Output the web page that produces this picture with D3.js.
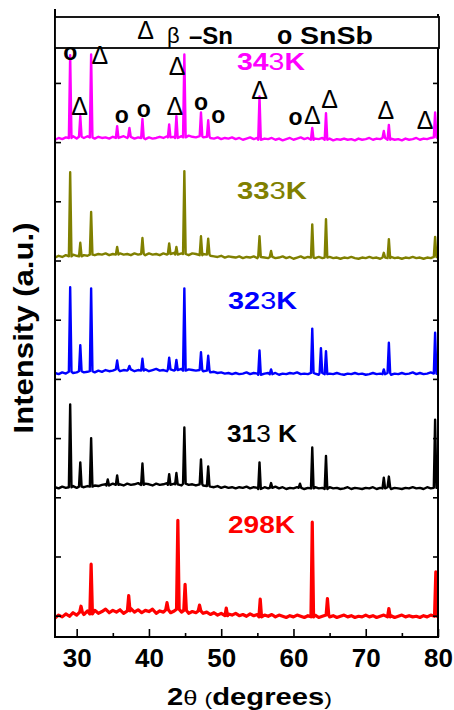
<!DOCTYPE html>
<html>
<head>
<meta charset="utf-8">
<script src="https://cdn.jsdelivr.net/npm/d3@7"></script>
<style>
  body { margin: 0; background: #fff; }
  svg { display: block; }
  text { font-family: "Liberation Sans", Arial, sans-serif; }
</style>
</head>
<body>
<div id="container"></div>
<script>
/**
 * CONSTANTS AND GLOBALS
 * */
const width = 454,
  height = 710,
  margin = { top: 48, bottom: 73, left: 55, right: 16 };

// 2theta sampling of the background, degrees
const twoTheta = [27,27.5,28,28.5,29,29.5,30,30.5,31,31.5,32,32.5,33,33.5,34,34.5,35,35.5,36,36.5,
  37,37.5,38,38.5,39,39.5,40,40.5,41,41.5,42,42.5,43,43.5,44,44.5,45,45.5,46,46.5,
  47,47.5,48,48.5,49,49.5,50,50.5,51,51.5,52,52.5,53,53.5,54,54.5,55,55.5,56,56.5,
  57,57.5,58,58.5,59,59.5,60,60.5,61,61.5,62,62.5,63,63.5,64,64.5,65,65.5,66,66.5,
  67,67.5,68,68.5,69,69.5,70,70.5,71,71.5,72,72.5,73,73.5,74,74.5,75,75.5,76,76.5,
  77,77.5,78,78.5,79,79.5,80];

// background level of each pattern (a.u., one tick = 1)
const base298 = [0.00,0.05,0.02,0.07,0.03,0.09,0.05,0.10,0.06,0.12,
  0.07,0.13,0.08,0.11,0.15,0.09,0.13,0.10,0.14,0.08,
  0.12,0.16,0.10,0.14,0.09,0.13,0.11,0.15,0.08,0.12,
  0.10,0.14,0.09,0.12,0.15,0.10,0.13,0.08,0.11,0.09,
  0.12,0.08,0.10,0.06,0.09,0.05,0.08,0.04,0.07,0.05,
  0.08,0.04,0.06,0.03,0.07,0.04,0.06,0.02,0.05,0.03,
  0.06,0.02,0.05,0.03,0.01,0.04,0.02,0.05,0.03,0.01,
  0.04,0.02,0.05,0.01,0.03,0.05,0.02,0.04,0.01,0.03,
  0.05,0.02,0.04,0.01,0.03,0.02,0.05,0.02,0.04,0.01,
  0.03,0.05,0.02,0.04,0.01,0.03,0.05,0.02,0.04,0.02,
  0.03,0.01,0.04,0.02,0.05,0.03,0.06];
const base313 = [0.05,0.03,0.06,0.04,0.05,0.07,0.04,0.06,0.05,0.07,
  0.06,0.08,0.07,0.09,0.10,0.08,0.11,0.09,0.10,0.08,
  0.11,0.09,0.10,0.12,0.09,0.11,0.10,0.08,0.11,0.09,
  0.10,0.12,0.09,0.11,0.10,0.08,0.11,0.09,0.10,0.08,
  0.10,0.08,0.07,0.06,0.05,0.07,0.04,0.06,0.04,0.05,
  0.03,0.05,0.04,0.06,0.03,0.05,0.04,0.02,0.05,0.03,
  0.04,0.06,0.03,0.05,0.02,0.04,0.03,0.05,0.04,0.02,
  0.04,0.03,0.05,0.03,0.04,0.02,0.05,0.03,0.04,0.02,
  0.03,0.05,0.02,0.04,0.03,0.02,0.04,0.03,0.05,0.02,
  0.04,0.03,0.05,0.02,0.04,0.03,0.02,0.04,0.03,0.05,
  0.03,0.04,0.02,0.05,0.03,0.04,0.05];
const base323 = [0.04,0.02,0.05,0.03,0.06,0.04,0.05,0.07,0.05,0.06,
  0.07,0.05,0.08,0.06,0.09,0.07,0.08,0.10,0.07,0.09,
  0.08,0.10,0.07,0.09,0.08,0.10,0.07,0.09,0.11,0.08,
  0.09,0.07,0.10,0.08,0.09,0.11,0.08,0.10,0.09,0.08,
  0.09,0.07,0.08,0.05,0.06,0.04,0.05,0.03,0.04,0.02,
  0.04,0.02,0.03,0.05,0.02,0.04,0.03,0.01,0.03,0.04,
  0.02,0.04,0.01,0.03,0.02,0.04,0.03,0.05,0.02,0.03,
  0.02,0.04,0.03,0.01,0.04,0.02,0.03,0.02,0.04,0.02,
  0.01,0.03,0.02,0.04,0.02,0.03,0.01,0.02,0.04,0.02,
  0.03,0.02,0.04,0.01,0.03,0.02,0.04,0.02,0.03,0.05,
  0.02,0.04,0.02,0.03,0.05,0.03,0.02];
const base333 = [0.03,0.06,0.04,0.07,0.05,0.08,0.06,0.05,0.07,0.06,
  0.08,0.07,0.09,0.08,0.10,0.07,0.09,0.08,0.10,0.08,
  0.09,0.07,0.10,0.08,0.09,0.07,0.10,0.08,0.09,0.07,
  0.10,0.08,0.09,0.11,0.08,0.10,0.09,0.07,0.10,0.09,
  0.07,0.09,0.08,0.06,0.05,0.04,0.06,0.03,0.05,0.04,
  0.03,0.05,0.02,0.04,0.03,0.05,0.02,0.04,0.03,0.02,
  0.04,0.02,0.03,0.05,0.02,0.04,0.01,0.03,0.05,0.02,
  0.04,0.03,0.02,0.04,0.02,0.03,0.04,0.02,0.03,0.01,
  0.03,0.02,0.04,0.02,0.01,0.03,0.02,0.04,0.02,0.03,
  0.01,0.03,0.02,0.04,0.02,0.03,0.01,0.03,0.02,0.04,
  0.02,0.03,0.01,0.03,0.02,0.04,0.03];
const base343 = [0.02,0.05,0.03,0.06,0.05,0.08,0.04,0.07,0.05,0.08,
  0.06,0.04,0.07,0.05,0.06,0.04,0.07,0.05,0.06,0.08,
  0.05,0.07,0.04,0.06,0.05,0.03,0.06,0.04,0.05,0.07,
  0.05,0.08,0.06,0.07,0.05,0.08,0.06,0.09,0.07,0.06,
  0.08,0.06,0.07,0.05,0.04,0.06,0.03,0.05,0.04,0.06,
  0.03,0.05,0.02,0.04,0.06,0.03,0.05,0.02,0.04,0.03,
  0.05,0.02,0.04,0.01,0.03,0.05,0.02,0.04,0.06,0.03,
  0.05,0.02,0.04,0.03,0.05,0.02,0.04,0.01,0.03,0.02,
  0.04,0.02,0.03,0.01,0.04,0.02,0.03,0.05,0.02,0.04,
  0.03,0.05,0.02,0.04,0.02,0.03,0.01,0.04,0.02,0.03,
  0.05,0.02,0.04,0.03,0.05,0.06,0.04];

// reflections: [2theta, height above background]
const peaks298 = [[30.6,0.10],[32.0,0.84],[37.2,0.26],[42.5,0.12],[44.0,1.50],[45.0,0.44],
  [47.0,0.10],[50.7,0.13],[55.4,0.30],[62.6,1.60],[64.7,0.28],[73.2,0.14],[79.7,0.75]];
const peaks313 = [[29.1,1.40],[30.5,0.41],[32.0,0.82],[34.3,0.10],[35.6,0.16],[39.1,0.36],
  [42.8,0.18],[43.8,0.19],[44.9,0.95],[47.2,0.42],[48.2,0.33],[55.3,0.45],[56.9,0.08],
  [60.9,0.07],[62.6,0.69],[64.5,0.56],[72.5,0.18],[73.2,0.18],[79.6,1.15]];
const peaks323 = [[29.1,1.43],[30.5,0.44],[32.0,1.40],[35.6,0.15],[37.3,0.06],[39.1,0.20],
  [42.8,0.20],[43.8,0.17],[44.9,1.39],[47.2,0.30],[48.2,0.25],[55.3,0.41],[56.9,0.08],
  [62.6,0.75],[63.8,0.42],[64.5,0.39],[72.5,0.08],[73.2,0.51],[79.6,0.69]];
const peaks333 = [[29.1,1.42],[30.5,0.23],[32.0,0.72],[35.6,0.13],[39.1,0.27],[42.8,0.18],
  [43.8,0.13],[44.9,1.40],[47.2,0.32],[48.2,0.27],[55.3,0.35],[56.9,0.10],[62.6,0.56],
  [64.5,0.65],[72.5,0.08],[73.2,0.32],[79.6,0.34]];
const peaks343 = [[29.1,1.40],[30.5,0.35],[32.0,1.40],[35.6,0.20],[37.3,0.15],[39.1,0.32],
  [42.8,0.22],[43.8,0.37],[44.9,1.40],[47.2,0.40],[48.2,0.28],[55.3,0.73],[62.6,0.20],
  [64.5,0.45],[72.5,0.12],[73.2,0.25],[79.6,0.42]];

const seriesNames = ["298K", "313 K", "323K", "333K", "343K"];
const seriesColors = ["#ff0000", "#000000", "#0000ff", "#808000", "#ff00ff"];
const offsets = [-0.04, 2.12, 4.06, 6.02, 8.02];
// label anchor [2theta, level] and width in px
const labelPos = [[55.58, 1.40], [55.65, 2.93], [55.72, 5.18], [57.03, 7.04], [56.89, 9.21]];
const labelWidth = [67, 70, 69, 70, 68];

// phase markers on the 343 K pattern: [2theta, level, phase]
const markers = [[29.1,9.49,"o"],[33.2,9.46,"d"],[30.4,8.59,"d"],[36.25,8.42,"o"],[39.3,8.52,"o"],
  [43.6,8.59,"d"],[43.9,9.27,"d"],[47.2,8.64,"o"],[49.6,8.42,"o"],[55.3,8.86,"d"],
  [60.3,8.39,"o"],[62.6,8.44,"d"],[65.0,8.71,"d"],[72.8,8.52,"d"],[78.2,8.35,"d"]];

const xTicks = [30, 40, 50, 60, 70, 80];
const xMinor = [35, 45, 55, 65, 75];
const yTicks = [0, 1, 2, 3, 4, 5, 6, 7, 8, 9];

/**
 * SCALES
 * */
const x = d3.scaleLinear().domain([27, 80]).range([margin.left, width - margin.right]);
const y = d3.scaleLinear().domain([-0.36, 9.59]).range([height - margin.bottom, margin.top]);

const svg = d3.select("#container")
  .append("svg")
  .attr("width", width)
  .attr("height", height);

// combine background + reflections into one trace
function buildTrace(base, peaks) {
  const pts = twoTheta
    .map((t, i) => [t, base[i]])
    .filter(([t]) => !peaks.some(([p]) => Math.abs(t - p) < 0.25));
  peaks.forEach(([p, h]) => {
    const b = base[d3.minIndex(twoTheta, t => Math.abs(t - p))];
    pts.push([p - 0.18, b], [p, b + h], [p + 0.18, b]);
  });
  return pts.sort((a, b) => a[0] - b[0]);
}

const traces = [
  buildTrace(base298, peaks298),
  buildTrace(base313, peaks313),
  buildTrace(base323, peaks323),
  buildTrace(base333, peaks333),
  buildTrace(base343, peaks343)
];

svg.append("clipPath").attr("id", "plotClip")
  .append("rect")
  .attr("x", x(27)).attr("y", y(9.59))
  .attr("width", x(80) - x(27)).attr("height", y(-0.36) - y(9.59));

const line = d3.line()
  .x(d => x(d[0]))
  .y(d => y(d[1]));

svg.append("g")
  .attr("clip-path", "url(#plotClip)")
  .selectAll("path")
  .data(traces)
  .join("path")
  .attr("fill", "none")
  .attr("stroke", (d, i) => seriesColors[i])
  .attr("stroke-width", (d, i) => i === 0 ? 3.2 : 2.4)
  .attr("stroke-linejoin", "round")
  .attr("d", (d, i) => line(d.map(p => [p[0], p[1] + offsets[i]])));

/**
 * AXES
 * */
const leftAxis = svg.append("g")
  .attr("transform", `translate(${x(27)},0)`)
  .call(d3.axisLeft(y).tickValues(yTicks).tickSize(-6).tickSizeOuter(0).tickFormat(""));
const rightAxis = svg.append("g")
  .attr("transform", `translate(${x(80)},0)`)
  .call(d3.axisRight(y).tickValues(yTicks).tickSize(-5).tickSizeOuter(0).tickFormat(""));
const bottomAxis = svg.append("g")
  .attr("transform", `translate(0,${y(-0.36)})`)
  .call(d3.axisBottom(x).tickValues(xTicks).tickSize(-8).tickSizeOuter(0).tickPadding(12));
const minorAxis = svg.append("g")
  .attr("transform", `translate(0,${y(-0.36)})`)
  .call(d3.axisBottom(x).tickValues(xMinor).tickSize(-4).tickSizeOuter(0).tickFormat(""));

[leftAxis, rightAxis, bottomAxis, minorAxis].forEach(g => {
  g.select(".domain").remove();
  g.selectAll(".tick line").attr("stroke", "#000").attr("stroke-width", 1.6);
});
bottomAxis.selectAll(".tick text")
  .attr("font-size", 26)
  .attr("font-weight", "bold")
  .attr("fill", "#000");

// frame
svg.append("path")
  .attr("fill", "none")
  .attr("stroke", "#000")
  .attr("stroke-width", 2)
  .attr("d", `M${x(27)},9 V${y(-0.36)} H${x(80)} V14`);

// legend box on top
const legend = svg.append("g");
legend.append("rect")
  .attr("x", x(27)).attr("y", 17)
  .attr("width", x(80) - x(27) + 1).attr("height", 31)
  .attr("fill", "#fff")
  .attr("stroke", "#000")
  .attr("stroke-width", 1.8);
legend.append("text").attr("x", 145.5).attr("y", 39)
  .attr("text-anchor", "middle")
  .attr("font-size", 25).text("Δ");
legend.append("text").attr("x", 167).attr("y", 43)
  .attr("font-size", 22).text("β");
legend.append("text").attr("x", 189).attr("y", 44)
  .attr("font-size", 24).attr("font-weight", "bold").text("–Sn");
legend.append("text").attr("x", 277).attr("y", 44)
  .attr("font-size", 25).attr("font-weight", "bold").text("o");
legend.append("text").attr("x", 300).attr("y", 44)
  .attr("font-size", 24).attr("font-weight", "bold")
  .attr("textLength", 73).attr("lengthAdjust", "spacingAndGlyphs").text("SnSb");

// phase markers
svg.append("g")
  .selectAll("text")
  .data(markers)
  .join("text")
  .attr("x", d => x(d[0]))
  .attr("y", d => y(d[1]) + (d[2] === "o" ? 6 : 8))
  .attr("text-anchor", "middle")
  .attr("font-size", d => d[2] === "o" ? 23 : 25)
  .attr("font-weight", d => d[2] === "o" ? "bold" : "normal")
  .text(d => d[2] === "o" ? "o" : "Δ");

// temperature labels (3rd digit in a lighter weight, as in the original)
const lab = svg.append("g")
  .selectAll("text")
  .data(seriesNames)
  .join("text")
  .attr("x", (d, i) => x(labelPos[i][0]))
  .attr("y", (d, i) => y(labelPos[i][1]))
  .attr("text-anchor", "middle")
  .attr("font-size", 23)
  .attr("font-weight", "bold")
  .attr("fill", (d, i) => seriesColors[i])
  .attr("textLength", (d, i) => labelWidth[i])
  .attr("lengthAdjust", "spacingAndGlyphs");
lab.each(function(d, i) {
  const t = d3.select(this);
  if (i === 0) { t.text(d); return; }
  t.append("tspan").text(d.slice(0, 2));
  t.append("tspan").attr("font-weight", "normal").text(d.slice(2, 3));
  t.append("tspan").text(d.slice(3));
});

// axis titles
const xt = svg.append("text")
  .attr("x", 249.5).attr("y", 705)
  .attr("text-anchor", "middle")
  .attr("font-size", 24)
  .attr("font-weight", "bold")
  .attr("textLength", 165)
  .attr("lengthAdjust", "spacingAndGlyphs");
xt.append("tspan").text("2");
xt.append("tspan").attr("font-weight", "normal").attr("font-size", 21).text("θ ");
xt.append("tspan").attr("font-weight", "normal").attr("font-size", 19).text("(");
xt.append("tspan").text("degrees");
xt.append("tspan").attr("font-weight", "normal").attr("font-size", 19).text(")");

svg.append("text")
  .attr("transform", "translate(33,328) rotate(-90)")
  .attr("text-anchor", "middle")
  .attr("font-size", 27)
  .attr("font-weight", "bold")
  .attr("textLength", 211)
  .attr("lengthAdjust", "spacingAndGlyphs")
  .text("Intensity (a.u.)");
</script>
</body>
</html>
